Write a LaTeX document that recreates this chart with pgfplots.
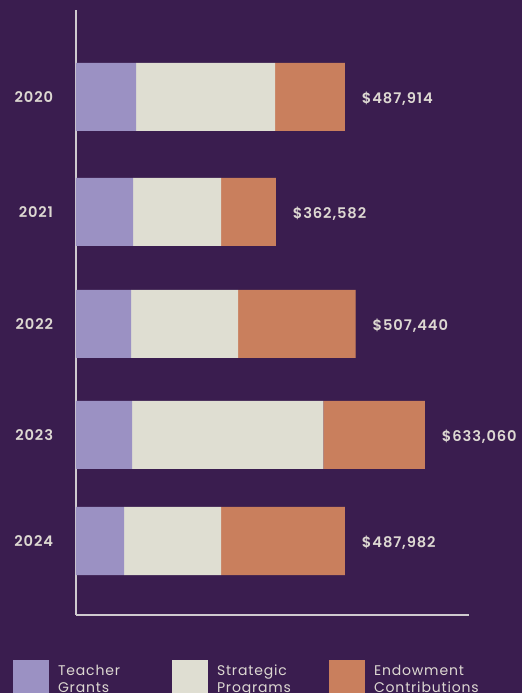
\documentclass[border=0pt]{standalone}
\usepackage{fontspec}
\usepackage{pgfplots}
\pgfplotsset{compat=1.18}
\setmainfont{Poppins}
\newfontfamily\lblfont[LetterSpace=6]{Poppins}
\newfontfamily\lblbold[LetterSpace=6]{Poppins SemiBold}
\definecolor{bg}{HTML}{3A1D4F}
\definecolor{cT}{HTML}{9B91C3}
\definecolor{cS}{HTML}{DFDED2}
\definecolor{cE}{HTML}{C97F5D}
\definecolor{txt}{HTML}{DDD8D2}
\definecolor{axc}{HTML}{CFCACF}
\begin{document}
\begin{tikzpicture}
\path[use as bounding box, clip] (0pt,0pt) rectangle (391.5pt,519.75pt);
\fill[bg] (0pt,0pt) rectangle (391.5pt,519.75pt);
\begin{axis}[
  at={(57pt,58.5pt)}, anchor=south west,
  scale only axis, width=294.75pt, height=453.75pt,
  xbar stacked, bar width=68,
  xmin=0, xmax=713000, ymin=-615, ymax=-10,
  axis x line*=bottom, axis y line*=left,
  axis line style={draw=axc, line width=1.3pt, -},
  xtick=\empty,
  ytick={-97,-212,-324,-435,-541},
  yticklabels={2020,2021,2022,2023,2024},
  major tick length=0pt,
  yticklabel style={font=\lblbold\fontsize{11}{13}\selectfont, text=txt, inner sep=0pt, xshift=-17pt},
  legend columns=3,
  legend image code/.code={\fill[#1] (0pt,-18.75pt) rectangle (27pt,8.25pt);},
  legend style={draw=none, fill=none, inner sep=0pt, outer sep=0pt,
    at={(rel axis cs:-0.1603,-0.07438)}, anchor=north west,
    nodes={inner sep=0pt, text=txt, font=\lblfont\fontsize{10.5}{13}\selectfont},
    /tikz/every odd column/.append style={column sep=6.75pt},
    /tikz/every even column/.append style={column sep=0pt}},
  legend cell align=left,
]
\addplot[fill=cT, draw=none] coordinates {(109000,-97) (103500,-212) (99900,-324) (101700,-435) (87200,-541)};
\addlegendentry{\parbox[t]{85.5pt}{Teacher\\Grants}}
\addplot[fill=cS, draw=none] coordinates {(252400,-97) (159800,-212) (194300,-324) (346900,-435) (176150,-541)};
\addlegendentry{\parbox[t]{84pt}{Strategic\\Programs}}
\addplot[fill=cE, draw=none] coordinates {(126514,-97) (99282,-212) (213240,-324) (184460,-435) (224632,-541)};
\addlegendentry{\parbox[t]{100pt}{Endowment\\Contributions}}
\addplot[fill=cE, draw=none, forget plot, point meta=explicit symbolic,
  nodes near coords={\makebox[0pt][l]{\pgfplotspointmeta}},
  every node near coord/.append style={inner sep=0pt, xshift=12.75pt, yshift=-1.5pt, text=txt, font=\lblbold\fontsize{11}{13}\selectfont}]
  coordinates {(1,-97) [\$487,914] (1,-212) [\$362,582] (1,-324) [\$507,440] (1,-435) [\$633,060] (1,-541) [\$487,982]};
\end{axis}
\end{tikzpicture}
\end{document}
